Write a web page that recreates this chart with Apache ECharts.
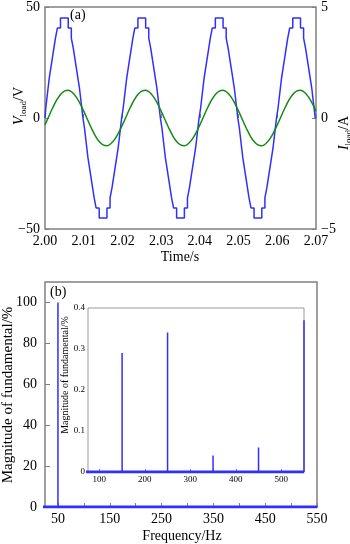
<!DOCTYPE html>
<html><head><meta charset="utf-8">
<script src="https://cdn.jsdelivr.net/npm/echarts@6/dist/echarts.min.js"></script>
<style>html,body{margin:0;padding:0;background:#fff}#c{width:350px;height:544px}</style>
</head><body><div id="c"></div>
<script>
// ---------- (a) time-domain data ----------
const timeTicks = [2.00, 2.01, 2.02, 2.03, 2.04, 2.05, 2.06, 2.07];
const vTicks = [-50, 0, 50];
const iTicks = [-5, 0, 5];
// staircase load voltage: switching instants (s) and new level (V)
const vTime = [
 2.0000,
 2.0002,2.0005,2.0008,2.0011,2.0015,2.0019,2.0023,2.0027,2.0032,2.0040,
 2.0060,2.0068,2.0073,2.0077,2.0081,2.0085,2.0089,2.0092,2.0095,2.0098,
 2.0102,2.0105,2.0108,2.0111,2.0115,2.0119,2.0123,2.0127,2.0132,2.0140,
 2.0160,2.0168,2.0173,2.0177,2.0181,2.0185,2.0189,2.0192,2.0195,2.0198,
 2.0202,2.0205,2.0208,2.0211,2.0215,2.0219,2.0223,2.0227,2.0232,2.0240,
 2.0260,2.0268,2.0273,2.0277,2.0281,2.0285,2.0289,2.0292,2.0295,2.0298,
 2.0302,2.0305,2.0308,2.0311,2.0315,2.0319,2.0323,2.0327,2.0332,2.0340,
 2.0360,2.0368,2.0373,2.0377,2.0381,2.0385,2.0389,2.0392,2.0395,2.0398,
 2.0402,2.0405,2.0408,2.0411,2.0415,2.0419,2.0423,2.0427,2.0432,2.0440,
 2.0460,2.0468,2.0473,2.0477,2.0481,2.0485,2.0489,2.0492,2.0495,2.0498,
 2.0502,2.0505,2.0508,2.0511,2.0515,2.0519,2.0523,2.0527,2.0532,2.0540,
 2.0560,2.0568,2.0573,2.0577,2.0581,2.0585,2.0589,2.0592,2.0595,2.0598,
 2.0602,2.0605,2.0608,2.0611,2.0615,2.0619,2.0623,2.0627,2.0632,2.0640,
 2.0660,2.0668,2.0673,2.0677,2.0681,2.0685,2.0689,2.0692,2.0695,2.0698,
 2.0700
];
const vVolt = [
 0,
 4.5,9,13.5,18,22.5,27,31.5,36,40.5,45,
 40.5,36,31.5,27,22.5,18,13.5,9,4.5,0,
 -4.5,-9,-13.5,-18,-22.5,-27,-31.5,-36,-40.5,-45,
 -40.5,-36,-31.5,-27,-22.5,-18,-13.5,-9,-4.5,0,
 4.5,9,13.5,18,22.5,27,31.5,36,40.5,45,
 40.5,36,31.5,27,22.5,18,13.5,9,4.5,0,
 -4.5,-9,-13.5,-18,-22.5,-27,-31.5,-36,-40.5,-45,
 -40.5,-36,-31.5,-27,-22.5,-18,-13.5,-9,-4.5,0,
 4.5,9,13.5,18,22.5,27,31.5,36,40.5,45,
 40.5,36,31.5,27,22.5,18,13.5,9,4.5,0,
 -4.5,-9,-13.5,-18,-22.5,-27,-31.5,-36,-40.5,-45,
 -40.5,-36,-31.5,-27,-22.5,-18,-13.5,-9,-4.5,0,
 4.5,9,13.5,18,22.5,27,31.5,36,40.5,45,
 40.5,36,31.5,27,22.5,18,13.5,9,4.5,0,
 0
];
// load current sampled every 1 ms (A)
const iTime = [
 2.000,2.001,2.002,2.003,2.004,2.005,2.006,2.007,2.008,2.009,
 2.010,2.011,2.012,2.013,2.014,2.015,2.016,2.017,2.018,2.019,
 2.020,2.021,2.022,2.023,2.024,2.025,2.026,2.027,2.028,2.029,
 2.030,2.031,2.032,2.033,2.034,2.035,2.036,2.037,2.038,2.039,
 2.040,2.041,2.042,2.043,2.044,2.045,2.046,2.047,2.048,2.049,
 2.050,2.051,2.052,2.053,2.054,2.055,2.056,2.057,2.058,2.059,
 2.060,2.061,2.062,2.063,2.064,2.065,2.066,2.067,2.068,2.069,
 2.070
];
const iAmp = [
 -0.31,0.08,0.46,0.80,1.06,1.21,1.25,1.16,0.96,0.67,
 0.31,-0.08,-0.46,-0.80,-1.06,-1.21,-1.25,-1.16,-0.96,-0.67,
 -0.31,0.08,0.46,0.80,1.06,1.21,1.25,1.16,0.96,0.67,
 0.31,-0.08,-0.46,-0.80,-1.06,-1.21,-1.25,-1.16,-0.96,-0.67,
 -0.31,0.08,0.46,0.80,1.06,1.21,1.25,1.16,0.96,0.67,
 0.31,-0.08,-0.46,-0.80,-1.06,-1.21,-1.25,-1.16,-0.96,-0.67,
 -0.31,0.08,0.46,0.80,1.06,1.21,1.25,1.16,0.96,0.67,
 0.31
];
// ---------- (b) spectrum data ----------
const freqLabels = [50, 150, 250, 350, 450, 550];
const freqTicks = [50, 100, 150, 200, 250, 300, 350, 400, 450, 500, 550];
const magTicks = [0, 20, 40, 60, 80, 100];
const insetFreqLabels = [100, 200, 300, 400, 500];
const insetFreqTicks = [100, 150, 200, 250, 300, 350, 400, 450, 500];
const insetMagTicks = [0, 0.1, 0.2, 0.3, 0.4];
const harmFreq = [50, 150, 250, 350, 450, 550];
const harmMag = [100, 0.29, 0.34, 0.04, 0.06, 0.37];
const floorFreq = [0, 550];
const floorMag = [0, 0];

const FONT = '"Liberation Serif","Times New Roman",serif';
const GRAY = '#808080';
const BLUE = '#2f2fff';
const GREEN = '#148a14';

const vData = vTime.map((t, k) => [t, vVolt[k]]);
const iData = iTime.map((t, k) => [t, iAmp[k]]);
const stems = [];
harmFreq.forEach((f, k) => { stems.push([f, 0], [f, harmMag[k]], [f, 0]); });
const floorData = floorFreq.map((f, k) => [f, floorMag[k]]);

const minus = v => String(v).replace('-', '\u2212');
const lbl = (size, margin, fmt) => ({ fontFamily: FONT, fontSize: size, color: '#000', margin: margin, formatter: fmt });

const chart = echarts.init(document.getElementById('c'), null, { renderer: 'canvas' });
chart.setOption({
  animation: false,
  backgroundColor: '#fff',
  grid: [
    { left: 45, top: 4, width: 271, height: 225, show: true, borderColor: GRAY, borderWidth: 1.5, backgroundColor: 'transparent' },
    { left: 45, top: 282, width: 272, height: 225, show: true, borderColor: GRAY, borderWidth: 1.5, backgroundColor: 'transparent' },
    { left: 88, top: 308, width: 216, height: 164, show: true, borderColor: '#999', borderWidth: 1, backgroundColor: '#fff' }
  ],
  xAxis: [
    { gridIndex: 0, type: 'value', min: 2.00, max: 2.07,
      axisLine: { show: false }, splitLine: { show: false },
      axisTick: { show: true, inside: true, length: 4, lineStyle: { color: GRAY }, customValues: timeTicks },
      axisLabel: Object.assign(lbl(14, 5, v => v.toFixed(2)), { customValues: timeTicks }) },
    { gridIndex: 1, type: 'value', min: 25, max: 550,
      axisLine: { show: false }, splitLine: { show: false },
      axisTick: { show: true, inside: true, length: 4, lineStyle: { color: GRAY }, customValues: freqTicks },
      axisLabel: Object.assign(lbl(14, 5, v => String(v)), { customValues: freqLabels }) },
    { gridIndex: 2, type: 'value', min: 75, max: 550,
      axisLine: { show: false }, splitLine: { show: false },
      axisTick: { show: true, inside: true, length: 3, lineStyle: { color: GRAY }, customValues: insetFreqTicks },
      axisLabel: Object.assign(lbl(9, 3, v => String(v)), { customValues: insetFreqLabels }) }
  ],
  yAxis: [
    { gridIndex: 0, type: 'value', min: -50, max: 50,
      axisLine: { show: false }, splitLine: { show: false },
      axisTick: { show: true, inside: true, length: 4, lineStyle: { color: GRAY }, customValues: vTicks },
      axisLabel: Object.assign(lbl(14, 5, minus), { customValues: vTicks }) },
    { gridIndex: 0, type: 'value', position: 'right', min: -5, max: 5,
      axisLine: { show: false }, splitLine: { show: false },
      axisTick: { show: true, inside: true, length: 4, lineStyle: { color: GRAY }, customValues: iTicks },
      axisLabel: Object.assign(lbl(14, 5, minus), { customValues: iTicks }) },
    { gridIndex: 1, type: 'value', min: 0, max: 110,
      axisLine: { show: false }, splitLine: { show: false },
      axisTick: { show: true, inside: true, length: 5, lineStyle: { color: GRAY }, customValues: magTicks },
      axisLabel: Object.assign(lbl(14, 8, v => String(v)), { customValues: magTicks }) },
    { gridIndex: 2, type: 'value', min: 0, max: 0.4,
      axisLine: { show: false }, splitLine: { show: false },
      axisTick: { show: false },
      axisLabel: Object.assign(lbl(9, 3, v => (v === 0 ? '0' : v.toFixed(1))), { customValues: insetMagTicks }) }
  ],
  series: [
    { type: 'line', xAxisIndex: 0, yAxisIndex: 0, data: vData, step: 'end', showSymbol: false,
      lineStyle: { color: BLUE, width: 1.5 }, z: 3 },
    { type: 'line', xAxisIndex: 0, yAxisIndex: 1, data: iData, smooth: 0.4, showSymbol: false,
      lineStyle: { color: GREEN, width: 1.5 }, z: 4 },
    { type: 'line', xAxisIndex: 1, yAxisIndex: 2, data: stems, showSymbol: false,
      lineStyle: { color: BLUE, width: 1.5 } },
    { type: 'line', xAxisIndex: 1, yAxisIndex: 2, data: floorData, showSymbol: false,
      lineStyle: { color: BLUE, width: 3 } },
    { type: 'line', xAxisIndex: 2, yAxisIndex: 3, data: stems, showSymbol: false,
      lineStyle: { color: BLUE, width: 1.5 }, z: 5 },
    { type: 'line', xAxisIndex: 2, yAxisIndex: 3, data: floorData, showSymbol: false,
      lineStyle: { color: BLUE, width: 3 }, z: 5 }
  ],
  graphic: [
    { type: 'text', x: 70, y: 15, style: { text: '(a)', font: '14px ' + FONT, fill: '#000', verticalAlign: 'middle' }, z: 10 },
    { type: 'text', x: 50, y: 292, style: { text: '(b)', font: '14px ' + FONT, fill: '#000', verticalAlign: 'middle' }, z: 10 },
    { type: 'text', x: 180, y: 257, style: { text: 'Time/s', font: '14px ' + FONT, fill: '#000', align: 'center', verticalAlign: 'middle' } },
    { type: 'text', x: 182, y: 536, style: { text: 'Frequency/Hz', font: '14px ' + FONT, fill: '#000', align: 'center', verticalAlign: 'middle' } },
    { type: 'text', x: 19, y: 106, rotation: Math.PI / 2,
      style: { text: '{i|V}{s|load}{n|/V}', align: 'center', verticalAlign: 'middle', fill: '#000',
        rich: { i: { fontFamily: FONT, fontSize: 14, fontStyle: 'italic', lineHeight: 18, verticalAlign: 'middle' },
                s: { fontFamily: FONT, fontSize: 9, lineHeight: 18, verticalAlign: 'bottom' },
                n: { fontFamily: FONT, fontSize: 14, lineHeight: 18, verticalAlign: 'middle' } } } },
    { type: 'text', x: 344, y: 133, rotation: Math.PI / 2,
      style: { text: '{i|I}{s|load}{n|/A}', align: 'center', verticalAlign: 'middle', fill: '#000',
        rich: { i: { fontFamily: FONT, fontSize: 14, fontStyle: 'italic', lineHeight: 18, verticalAlign: 'middle' },
                s: { fontFamily: FONT, fontSize: 9, lineHeight: 18, verticalAlign: 'bottom' },
                n: { fontFamily: FONT, fontSize: 14, lineHeight: 18, verticalAlign: 'middle' } } } },
    { type: 'text', x: 8, y: 395, rotation: Math.PI / 2,
      style: { text: 'Magnitude of fundamental/%', font: '15px ' + FONT, fill: '#000', align: 'center', verticalAlign: 'middle' } },
    { type: 'text', x: 65, y: 375, rotation: Math.PI / 2,
      style: { text: 'Magnitude of fundamental/%', font: '10px ' + FONT, fill: '#000', align: 'center', verticalAlign: 'middle' }, z: 10 }
  ]
});
</script></body></html>
